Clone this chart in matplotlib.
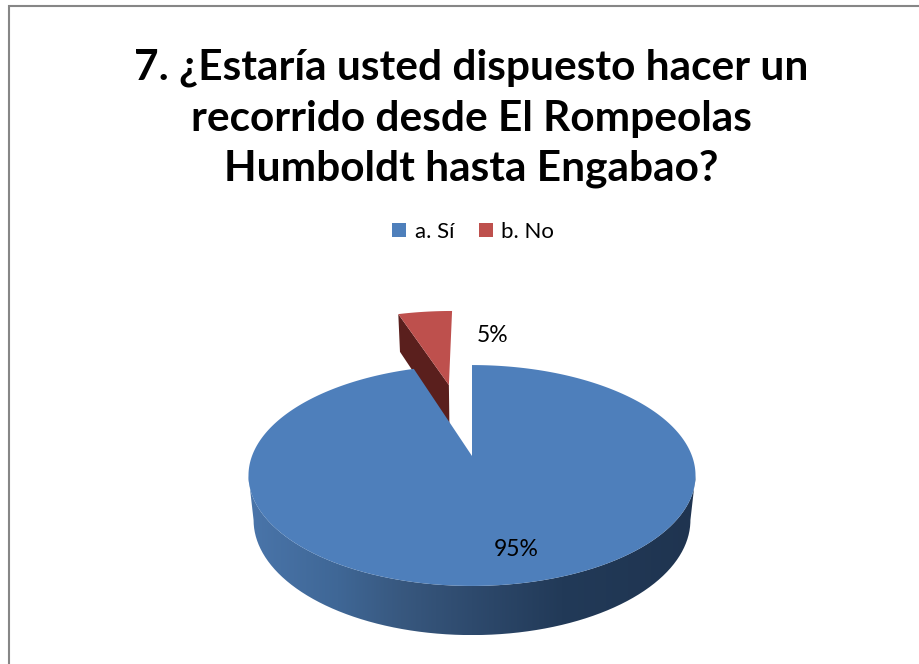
import numpy as np
import matplotlib
matplotlib.use("Agg")
import matplotlib.pyplot as plt
from matplotlib.patches import Patch, PathPatch
from matplotlib.path import Path
from matplotlib.colors import LinearSegmentedColormap

# --- data ---
categories = ["a. Sí", "b. No"]
values = [95, 5]
title = "7. ¿Estaría usted dispuesto hacer un\nrecorrido desde El Rompeolas\nHumboldt hasta Engabao?"

# --- style ---
BLUE = "#4e7fbb"
RED = "#be504d"
RED_DARK = "#5a1f1d"
FONT = "Lato"
plt.rcParams["font.family"] = [FONT, "DejaVu Sans"]

fig = plt.figure(figsize=(9.2, 6.64), dpi=100)
ax = fig.add_axes([0, 0, 1, 1])

# Perspective projection of the pie plane onto the canvas
PERSP = 0.1765
X0 = 472.0


def project(px, py, level=0):
    """level 0 = top face, level 1 = bottom face of the pie"""
    y0, a, c = (456.0, 107.0, 220.0) if level == 0 else (499.7, 111.5, 215.0)
    w = 1 + PERSP * py
    return X0 + c * px / w, y0 - a * py / w


def arc(start, end, radius=1.0, off=(0.0, 0.0), level=0, n=240):
    t = np.radians(np.linspace(start, end, n))
    return project(off[0] + radius * np.sin(t), off[1] + radius * np.cos(t), level)


# angles clockwise from the top, derived from the values
total = sum(values)
blue_end = 360.0 * values[0] / total
red_mid = (blue_end + 360.0) / 2
EXPLODE = 0.761
red_off = (EXPLODE * np.sin(np.radians(red_mid)), EXPLODE * np.cos(np.radians(red_mid)))
RED_R = 1.03

# blue outer wall with gradient
tan_ang = np.degrees(np.arccos(-PERSP))
tx, ty = arc(tan_ang, 360 - tan_ang, level=0)
bx, by = arc(tan_ang, 360 - tan_ang, level=1)
vx = np.r_[tx, bx[::-1], tx[0]]
vy = np.r_[ty, by[::-1], ty[0]]
wall_path = Path(np.c_[vx, vy])
cmap = LinearSegmentedColormap.from_list(
    "wall",
    [(0.0, "#4a75aa"), (0.2, "#3f6796"), (0.34, "#38587f"),
     (0.5, "#2e4a6d"), (0.7, "#223a58"), (1.0, "#1f3450")],
)
im = ax.imshow(np.linspace(1, 0, 256)[None, :], cmap=cmap, aspect="auto",
               extent=[vx.max(), vx.min(), by.max(), ty.min()], zorder=1, vmin=0, vmax=1)
im.set_clip_path(PathPatch(wall_path, transform=ax.transData))

# exploded red slice: side wall then top face
ax_apex_top = project(*red_off, 0)
ax_apex_bot = project(*red_off, 1)
rx_t, ry_t = arc(blue_end, 360, RED_R, red_off, 0, 60)
rx_b, ry_b = arc(blue_end, 360, RED_R, red_off, 1, 60)
ax.fill([rx_t[0], ax_apex_top[0], ax_apex_bot[0], rx_b[0]],
        [ry_t[0], ax_apex_top[1], ax_apex_bot[1], ry_b[0]],
        color=RED_DARK, lw=0, zorder=2)
ax.fill(np.r_[ax_apex_top[0], rx_t], np.r_[ax_apex_top[1], ry_t], color=RED, lw=0, zorder=3)

# blue top face
bx_t, by_t = arc(0, blue_end, n=600)
ax_apex = project(0, 0, 0)
ax.fill(np.r_[ax_apex[0], bx_t], np.r_[ax_apex[1], by_t], color=BLUE, lw=0, zorder=4)

# percentage labels
ax.text(516, 549, f"{values[0]}%", ha="center", va="center", fontsize=16.5, color="black", zorder=6)
ax.text(493, 336, f"{values[1]}%", ha="center", va="center", fontsize=16.5, color="black", zorder=6)

# title
ax.text(471.5, 118.5, title, ha="center", va="center", fontsize=30.5, fontweight="bold",
        linespacing=1.4, color="black")

# legend
handles = [Patch(color=BLUE, lw=0), Patch(color=RED, lw=0)]
ax.legend(handles, categories, ncol=2, loc="center", bbox_to_anchor=(473 / 920, 1 - 232 / 664),
          frameon=False, fontsize=16, handlelength=0.63, handleheight=0.63,
          handletextpad=0.4, columnspacing=1.1, borderpad=0, borderaxespad=0)

# chart frame (left and top edges visible)
ax.plot([9.5, 9.5, 920], [664, 5.5, 5.5], color="#868686", lw=1.5, zorder=7, solid_joinstyle="miter")

ax.set_xlim(0, 920)
ax.set_ylim(664, 0)
ax.axis("off")
fig.savefig("out.png", dpi=100, facecolor="white")
